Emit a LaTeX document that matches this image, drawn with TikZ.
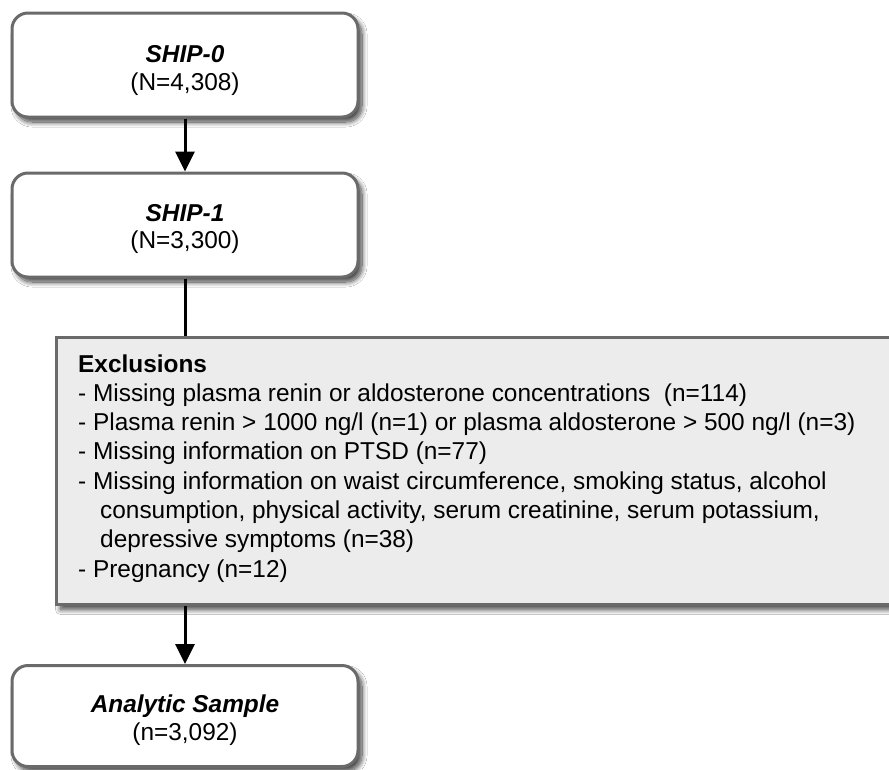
\documentclass[tikz,border=0pt]{standalone}
\usepackage{fontspec}
\setmainfont{Liberation Sans}
\usetikzlibrary{arrows.meta,shadows.blur}
\definecolor{boxgray}{HTML}{6A6A6A}
\definecolor{exfill}{HTML}{ECECEC}
\begin{document}
\begin{tikzpicture}[x=1pt,y=-1pt,
  shad/.style={blur shadow={shadow xshift=4pt, shadow yshift=-5pt, shadow opacity=75, shadow blur steps=12, shadow blur radius=5pt}},
  sbox/.style={draw=boxgray, line width=3pt, fill=white, rounded corners=16pt, inner sep=0pt,
    minimum width=346pt, shad},
  ebox/.style={draw=boxgray, line width=3pt, fill=exfill, inner sep=0pt, anchor=north west, shad},
  title/.style={font=\fontsize{24.4}{28}\selectfont\bfseries\itshape, anchor=base, inner sep=0pt},
  count/.style={font=\fontsize{24.4}{28}\selectfont, anchor=base, inner sep=0pt},
  flow/.style={line width=3pt, draw=black},
  arr/.style={flow, -{Triangle[width=19pt,length=20pt]}}
]
\clip (0,0) rectangle (889,769);
\fill[white] (0,0) rectangle (889,769);

\node[sbox, minimum height=104pt] (b1) at (185,65) {};
\node[sbox, minimum height=104pt] (b2) at (185,225) {};
\node[ebox, minimum width=850pt, minimum height=267pt] (ex) at (55,336) {};
\node[sbox, minimum height=101pt] (b3) at (185,716) {};

\node[title] (t1) at (185,62) {SHIP-0};
\node[count] (c1) at (185,90.5) {(N=4,308)};
\node[title] (t2) at (185,221) {SHIP-1};
\node[count] (c2) at (185,248.5) {(N=3,300)};
\node[title] (t3) at (185,712) {Analytic Sample};
\node[count] (c3) at (185,740) {(n=3,092)};

\node[anchor=north west, inner sep=0pt, align=left, font=\fontsize{24.4}{29.3}\selectfont] (extext) at (78,354.2)
{\textbf{Exclusions}\\
- Missing plasma renin or aldosterone concentrations\ \ (n=114)\\
- Plasma renin > 1000 ng/l (n=1) or plasma aldosterone > 500 ng/l (n=3)\\
- Missing information on PTSD (n=77)\\
- Missing information on waist circumference, smoking status, alcohol\\
\hspace*{22pt}consumption, physical activity, serum creatinine, serum potassium,\\
\hspace*{22pt}depressive symptoms (n=38)\\
- Pregnancy (n=12)};

\draw[arr] (b1.south) -- (b2.north);
\draw[flow] (b2.south) -- (b2.south |- ex.north);
\draw[arr] (b3.north |- ex.south) -- (b3.north);
\end{tikzpicture}
\end{document}
